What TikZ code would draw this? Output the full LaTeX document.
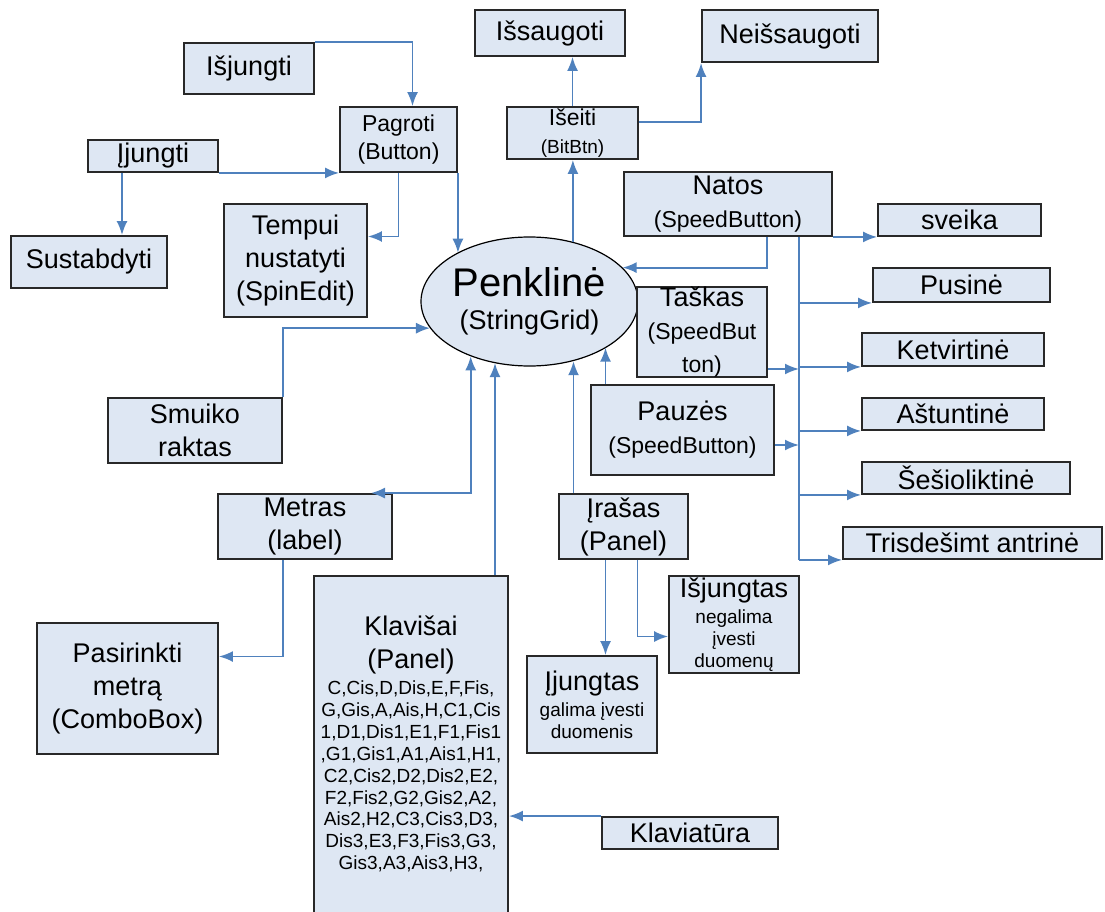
\documentclass[tikz,border=0pt]{standalone}
\usepackage{fontspec}
\setmainfont{Liberation Sans}
\usepackage{tikz}
\usetikzlibrary{calc, arrows, arrows.meta, shapes.geometric}
\definecolor{boxfill}{RGB}{222,231,243}
\definecolor{boxline}{RGB}{40,40,40}
\definecolor{linkblue}{RGB}{79,129,189}
\newcommand{\fbig}{\fontsize{40}{44}\selectfont}
\newcommand{\fmain}{\fontsize{27}{33}\selectfont}
\newcommand{\fmid}{\fontsize{23}{28}\selectfont}
\newcommand{\fsmall}{\fontsize{19}{22}\selectfont}
\tikzstyle{blk}=[draw=boxline, fill=boxfill, line width=1.9pt, inner sep=0pt, align=center, font=\fmain]
\tikzstyle{oval}=[ellipse, draw=black, fill=boxfill, line width=1.2pt, inner sep=0pt, align=center, font=\fmain]
\tikzstyle{txt}=[inner sep=0pt, align=center, font=\fmain]
\tikzstyle{link}=[draw=linkblue, line width=1.8pt]

\begin{document}
\begin{tikzpicture}[x=1pt,y=-1pt,>={Latex[length=14pt,width=11pt]}]
      \useasboundingbox (0,0) rectangle (1105,912);
      \node [blk, minimum width=150pt, minimum height=46pt] (Issaugoti) at (550,33) {Išsaugoti};
      \node [blk, minimum width=176pt, minimum height=52pt] (Neissaugoti) at (790,36) {Neišsaugoti};
      \node [blk, minimum width=130pt, minimum height=51pt] (Isjungti) at (249,68.5) {Išjungti};
      \node [blk, font=\fmid, minimum width=117pt, minimum height=65pt] (Pagroti) at (398.5,139.5) {Pagroti\\(Button)};
      \node [blk, font=\fmid, minimum width=131pt, minimum height=52pt] (Iseiti) at (572.5,133) {Išeiti\\{\fsmall (BitBtn)}};
      \node [blk, minimum width=130pt, minimum height=32pt] (Ijungti) at (153,156) {Įjungti};
      \node [blk, minimum width=208pt, minimum height=64pt] (Natos) at (728,204) {Natos\\{\fmid (SpeedButton)}};
      \node [blk, minimum width=163pt, minimum height=32pt] (sveika) at (959.5,220) {sveika};
      \node [blk, minimum width=143pt, minimum height=113pt] (Tempui) at (295.5,260.5) {Tempui\\nustatyti\\(SpinEdit)};
      \node [blk, minimum width=156pt, minimum height=52pt] (Sustabdyti) at (89,262) {Sustabdyti};
      \node [oval, minimum width=215pt, minimum height=129pt] (Penkline) at (529.5,301.5) {{\fbig Penklinė}\\(StringGrid)};
      \node [blk, minimum width=177pt, minimum height=34pt] (Pusine) at (961.5,285) {Pusinė};
      \node [blk, minimum width=130pt, minimum height=90pt] (Taskas) at (702,332) {Taškas\\{\fmid (SpeedBut}\\{\fmid ton)}};
      \node [blk, minimum width=182pt, minimum height=33pt] (Ketvirtine) at (953,349.5) {Ketvirtinė};
      \node [blk, minimum width=174pt, minimum height=65pt] (Smuiko) at (195,430.5) {Smuiko\\raktas};
      \node [blk, minimum width=183pt, minimum height=90pt] (Pauzes) at (682.5,430) {Pauzės\\{\fmid (SpeedButton)}};
      \node [blk, minimum width=182pt, minimum height=32pt] (Astuntine) at (953,414) {Aštuntinė};
      \node [blk, minimum width=208pt, minimum height=32pt] (Sesioliktine) at (966,478) {Šešioliktinė};
      \node [blk, minimum width=174pt, minimum height=65pt] (Metras) at (305,526.5) {Metras\\(label)};
      \node [blk, minimum width=129pt, minimum height=65pt] (Irasas) at (623.5,526.5) {Įrašas\\(Panel)};
      \node [blk, minimum width=259pt, minimum height=32pt] (Trisdesimt) at (972.5,543) {Trisdešimt antrinė};
      \node [blk, font=\fsmall, minimum width=130pt, minimum height=97pt] (Isjungtas) at (734,624.5) {{\fmain Išjungtas}\\[4pt]negalima\\įvesti\\duomenų};
      \node [blk, minimum width=194pt, minimum height=349pt] (Klavisai) at (411,750.5) {};
      \node [txt] (KlavTitle) at (411,645) {Klavišai\\(Panel)};
      \node [txt, font=\fontsize{19}{21.9}\selectfont] (KlavList) at (411,776.5) {C,Cis,D,Dis,E,F,Fis,\\G,Gis,A,Ais,H,C1,Cis\\1,D1,Dis1,E1,F1,Fis1\\,G1,Gis1,A1,Ais1,H1,\\C2,Cis2,D2,Dis2,E2,\\F2,Fis2,G2,Gis2,A2,\\Ais2,H2,C3,Cis3,D3,\\Dis3,E3,F3,Fis3,G3,\\Gis3,A3,Ais3,H3,};
      \node [blk, minimum width=181pt, minimum height=131pt] (Pasirinkti) at (127.5,688.5) {Pasirinkti\\metrą\\(ComboBox)};
      \node [blk, font=\fsmall, minimum width=130pt, minimum height=97pt] (Ijungtas) at (592,704.5) {{\fmain Įjungtas}\\[4pt]galima įvesti\\duomenis};
      \node [blk, minimum width=176pt, minimum height=32pt] (Klaviatura) at (690,833) {Klaviatūra};

      \draw [link,->] (Isjungti.north east) -| ([xshift=14pt]Pagroti.north);
      \draw [link,->] (Ijungti.south east) -- (Pagroti.south west);
      \draw [link,->] ([xshift=-31pt]Ijungti.south) -- ([xshift=33pt]Sustabdyti.north);
      \draw [link,->] (Pagroti.south) |- ([yshift=24pt]Tempui.east);
      \draw [link,->] (Pagroti.south east) -- (Pagroti.south east |- Penkline.146);
      \draw [link,->] (Penkline.54) -- (Penkline.54 |- Iseiti.south);
      \draw [link,->] (Iseiti.north) -- (Iseiti.north |- Issaugoti.south);
      \draw [link,->] ([yshift=11pt]Iseiti.east) -| (Neissaugoti.south west);
      \draw [link,->] ([xshift=39pt]Natos.south) |- (Penkline.20);
      \draw [link,->] (Natos.south east) -- (sveika.south west);
      \coordinate (bus) at ([xshift=71pt]Natos.south);
      \draw [link] (bus) -- (bus |- Trisdesimt.south);
      \foreach \n in {Pusine, Ketvirtine, Astuntine, Sesioliktine, Trisdesimt}
        \draw [link,->] (bus |- \n.south west) -- (\n.south west);
      \coordinate (tk) at ([yshift=-37pt]Taskas.east);
      \draw [link,->] (tk) -- (tk -| bus);
      \coordinate (pz) at ([yshift=-15pt]Pauzes.east);
      \draw [link,->] (pz) -- (pz -| bus);
      \coordinate (pzup) at ([xshift=-77pt]Pauzes.north);
      \draw [link,->] (pzup) -- (pzup |- Penkline.-31);
      \coordinate (irup) at ([xshift=-50pt]Irasas.north);
      \draw [link,->] (irup) -- (irup |- Penkline.-54);
      \draw [link,->] (Smuiko.north east) |- (Penkline.195);
      \draw [link,<->] ([xshift=66pt]Metras.north) -| (Penkline.223);
      \coordinate (kvup) at ([xshift=84pt]Klavisai.north);
      \draw [link,->] (kvup) -- (kvup |- Penkline.240);
      \draw [link,->] ([xshift=-22pt]Metras.south) |- ([yshift=32pt]Pasirinkti.east);
      \coordinate (irdn) at ([xshift=-18pt]Irasas.south);
      \draw [link,->] (irdn) -- (irdn |- Ijungtas.north);
      \draw [link,->] ([xshift=14pt]Irasas.south) |- ([yshift=-12pt]Isjungtas.west);
      \draw [link,->] (Klaviatura.north west) -- (Klaviatura.north west -| Klavisai.east);
\end{tikzpicture}
\end{document}
